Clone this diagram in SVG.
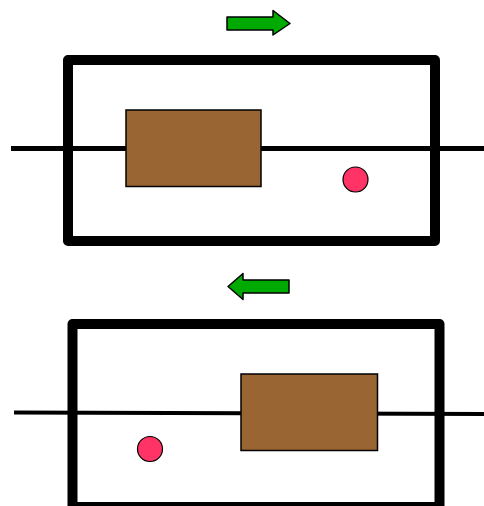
<svg xmlns="http://www.w3.org/2000/svg" width="484" height="506" viewBox="0 0 484 506">
<style>
.frame{fill:none;stroke:#000;stroke-width:10;stroke-linejoin:round}
.rod{stroke:#000;fill:none}
.block{fill:#996633;stroke:#000;stroke-width:1.5}
.ball{fill:#ff3366;stroke:#000;stroke-width:1.2}
.arrow{fill:#00aa00;stroke:#000;stroke-width:1.5;stroke-linejoin:round}
</style>
<rect width="484" height="506" fill="#fff"/>
<g id="top-arrow"><polygon class="arrow" points="227,17 273,17 273,10.5 290,23.5 273,35 273,30 227,30"/></g>
<g id="top-system">
<line class="rod" x1="11" y1="148.5" x2="484" y2="148.5" stroke-width="5"/>
<rect class="frame" x="68" y="60" width="367" height="181"/>
<rect class="block" x="126" y="110" width="135" height="76.5"/>
<circle class="ball" cx="355.5" cy="179.5" r="12.5"/>
</g>
<g id="bottom-arrow"><polygon class="arrow" points="289,280 243,280 243,273.5 228,286.5 243,299.5 243,293 289,293"/></g>
<g id="bottom-system">
<line class="rod" x1="14" y1="412.5" x2="484" y2="414" stroke-width="4"/>
<rect class="frame" x="72.5" y="324" width="367" height="183"/>
<rect class="block" x="241" y="374" width="136.5" height="76.5"/>
<circle class="ball" cx="150" cy="449" r="12.5"/>
</g>
</svg>
